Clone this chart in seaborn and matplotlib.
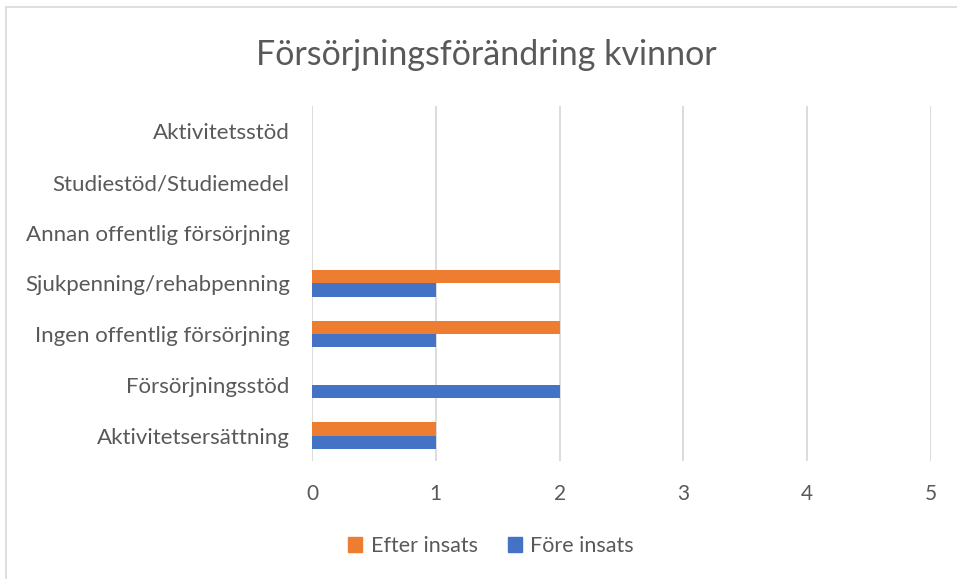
import matplotlib.pyplot as plt
import seaborn as sns
import pandas as pd
from matplotlib.lines import Line2D
from matplotlib.patches import Patch

# kategorier uppifrån och ner
kategorier = ['Aktivitetsstöd', 'Studiestöd/Studiemedel', 'Annan offentlig försörjning',
              'Sjukpenning/rehabpenning', 'Ingen offentlig försörjning',
              'Försörjningsstöd', 'Aktivitetsersättning']
efter_insats = [0, 0, 0, 2, 2, 0, 1]
fore_insats = [0, 0, 0, 1, 1, 2, 1]
serier = ['Efter insats', 'Före insats']
farger = ['#ED7D31', '#4472C4']
x_ticks = [0, 1, 2, 3, 4, 5]

df = pd.DataFrame({
    'kategori': kategorier * 2,
    'antal': efter_insats + fore_insats,
    'insats': [serier[0]] * len(kategorier) + [serier[1]] * len(kategorier),
})

sns.set_style('white')
plt.rcParams['font.family'] = ['Lato', 'DejaVu Sans']
textfarg = '#595959'

fig = plt.figure(figsize=(9.57, 5.79), dpi=100)
ax = fig.add_axes([0.326, 0.204, 0.647, 0.613])

sns.barplot(data=df, x='antal', y='kategori', hue='insats', order=kategorier,
            hue_order=serier, palette=farger, orient='h', width=0.52, gap=0,
            saturation=1, errorbar=None, legend=False, ax=ax, zorder=3,
            linewidth=0)

ax.set_xlim(0, 5)
ax.set_xticks(x_ticks)
ax.set_xticklabels([str(t) for t in x_ticks], fontsize=15, color=textfarg)
ax.tick_params(axis='y', labelsize=16, labelcolor=textfarg, length=0, pad=16)
ax.tick_params(axis='x', length=0, pad=17)
ax.set_xlabel('')
ax.set_ylabel('')
ax.grid(axis='x', color='#D9D9D9', linewidth=1.3, zorder=0)
ax.set_axisbelow(True)
for s in ax.spines.values():
    s.set_visible(False)

fig.suptitle('Försörjningsförändring kvinnor', fontsize=24.5, color=textfarg,
             x=0.508, y=0.932)

handles = [Patch(color=c, label=s) for c, s in zip(farger, serier)]
fig.legend(handles=handles, loc='center', bbox_to_anchor=(0.513, 0.057), ncol=2,
           frameon=False, fontsize=15.5, labelcolor=textfarg, handlelength=0.65,
           handleheight=0.65, handletextpad=0.4, columnspacing=1.4)

# ram runt diagrammet (endast övre och vänster kant syns)
fig.add_artist(Line2D([6 / 957, 1], [1 - 7 / 579, 1 - 7 / 579], color='#D9D9D9', linewidth=1.2,
                      transform=fig.transFigure))
fig.add_artist(Line2D([6 / 957, 6 / 957], [0, 1 - 7 / 579], color='#D9D9D9', linewidth=1.2,
                      transform=fig.transFigure))

fig.savefig('out.png', dpi=100, facecolor='white')
